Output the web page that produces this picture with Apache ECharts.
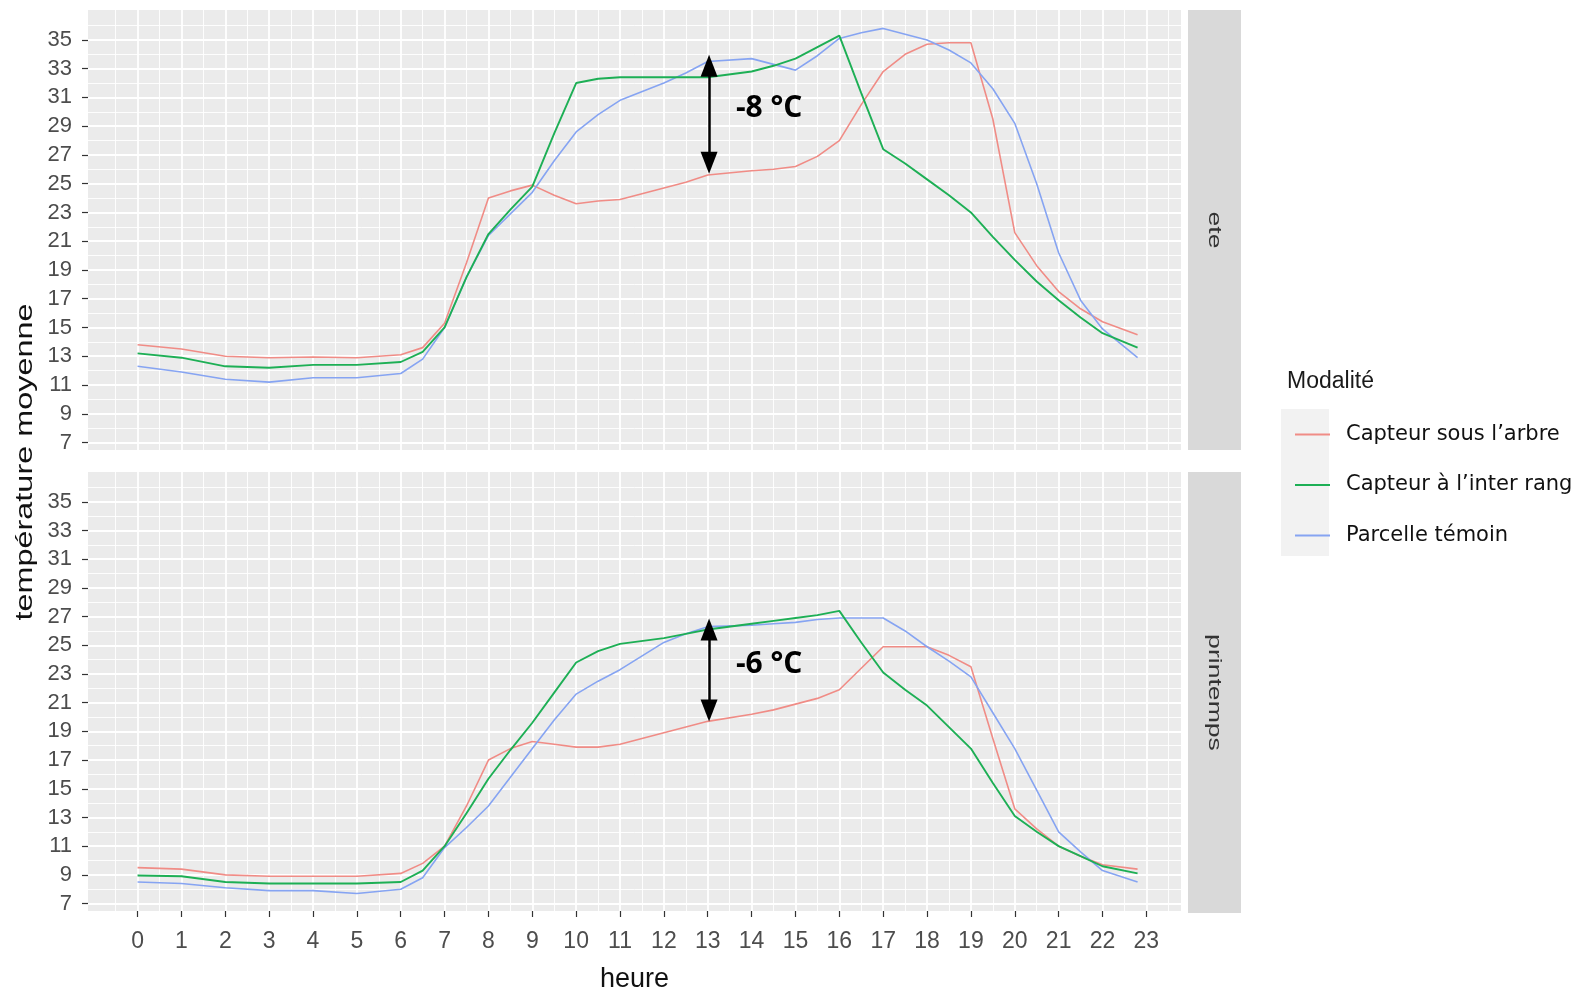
<!DOCTYPE html>
<html>
<head>
<meta charset="utf-8">
<title>Température moyenne par heure</title>
<script src="https://cdn.jsdelivr.net/npm/echarts@6.0.0/dist/echarts.min.js"></script>
<style>
  html, body { margin: 0; padding: 0; background: #fff; }
  #chart { width: 1577px; height: 994px; }
</style>
</head>
<body>
<div id="chart"></div>
<script>
// heures des relevés
const hours = [0, 1, 2, 3, 4, 5, 6, 6.5, 7, 7.5, 8, 8.5, 9, 9.5, 10, 10.5, 11, 12, 12.5, 13,
  14, 14.5, 15, 15.5, 16, 16.5, 17, 17.5, 18, 18.5, 19, 19.5, 20, 20.5, 21, 21.5, 22, 22.8];

// été
const eteArbre = [13.8, 13.5, 13.0, 12.9, 12.95, 12.9, 13.1, 13.6, 15.3, 19.5, 24.0, 24.5, 24.9, 24.2, 23.6, 23.8, 23.9, 24.7, 25.1, 25.6,
  25.9, 26.0, 26.2, 26.9, 28.0, 30.5, 32.8, 34.0, 34.7, 34.8, 34.8, 29.5, 21.6, 19.3, 17.5, 16.3, 15.4, 14.5];
const eteInterRang = [13.2, 12.9, 12.3, 12.2, 12.4, 12.4, 12.6, 13.3, 15.0, 18.5, 21.5, 23.2, 24.8, 28.5, 32.0, 32.3, 32.4, 32.4, 32.4, 32.4,
  32.8, 33.2, 33.7, 34.5, 35.3, 31.3, 27.4, 26.4, 25.3, 24.2, 23.0, 21.3, 19.7, 18.2, 16.9, 15.7, 14.6, 13.6];
const eteTemoin = [12.3, 11.9, 11.4, 11.2, 11.5, 11.5, 11.8, 12.8, 15.0, 18.5, 21.4, 22.9, 24.4, 26.6, 28.6, 29.8, 30.8, 32.0, 32.7, 33.5,
  33.7, 33.3, 32.9, 33.9, 35.1, 35.5, 35.8, 35.4, 35.0, 34.3, 33.4, 31.6, 29.2, 25.0, 20.2, 16.9, 14.9, 12.9];

// printemps
const printempsArbre = [9.5, 9.4, 9.0, 8.9, 8.9, 8.9, 9.1, 9.8, 11.0, 13.8, 17.0, 17.8, 18.3, 18.1, 17.9, 17.9, 18.1, 18.9, 19.3, 19.7,
  20.2, 20.5, 20.9, 21.3, 21.9, 23.4, 24.9, 24.9, 24.9, 24.3, 23.5, 18.5, 13.6, 12.2, 11.0, 10.3, 9.7, 9.4];
const printempsInterRang = [8.95, 8.9, 8.5, 8.4, 8.4, 8.4, 8.5, 9.3, 11.0, 13.3, 15.7, 17.7, 19.6, 21.7, 23.8, 24.6, 25.1, 25.5, 25.8, 26.1,
  26.5, 26.7, 26.9, 27.1, 27.4, 25.2, 23.1, 21.9, 20.8, 19.3, 17.8, 15.4, 13.1, 12.0, 11.0, 10.3, 9.6, 9.1];
const printempsTemoin = [8.5, 8.4, 8.1, 7.9, 7.9, 7.7, 8.0, 8.8, 10.9, 12.3, 13.8, 15.8, 17.8, 19.8, 21.6, 22.5, 23.3, 25.2, 25.8, 26.3,
  26.4, 26.5, 26.6, 26.8, 26.9, 26.9, 26.9, 26.0, 24.9, 23.9, 22.8, 20.3, 17.8, 14.9, 12.0, 10.6, 9.3, 8.5];

const modalites = ['Capteur sous l\u2019arbre', 'Capteur \u00e0 l\u2019inter rang', 'Parcelle t\u00e9moin'];
const facets = ['ete', 'printemps'];

// graduations
const xTicks = [0, 1, 2, 3, 4, 5, 6, 7, 8, 9, 10, 11, 12, 13, 14, 15, 16, 17, 18, 19, 20, 21, 22, 23];
const yTicks = [7, 9, 11, 13, 15, 17, 19, 21, 23, 25, 27, 29, 31, 33, 35];

// écarts annotés : [heure, haut, bas]
const ecartEte = [13.03, 33.2, 26.45];
const ecartPrintemps = [13.03, 26.1, 20.45];
const ecartLabels = ['-8 \u00b0C', '-6 \u00b0C'];

const xMinor = [-0.5].concat(xTicks.map(h => h + 0.5));
const yMinor = [6].concat(yTicks.map(v => v + 1));
const X_MIN = -1.13, X_MAX = 23.79, Y_MIN = 6.48, Y_MAX = 37.08;

const colors = ['#F08C86', '#1DAF55', '#86A4F2'];
const narrow = '"Liberation Sans Narrow", "Liberation Sans", sans-serif';
const regular = '"Liberation Sans", Arial, sans-serif';

const grids = [
  { left: 88, top: 10, width: 1093, height: 440 },
  { left: 88, top: 472, width: 1093, height: 441 }
];

const xAxes = [];
const yAxes = [];
grids.forEach((g, i) => {
  const bottom = i === 1;
  xAxes.push({
    type: 'value', gridIndex: i, min: X_MIN, max: X_MAX,
    axisLine: { show: false, onZero: false },
    axisTick: { show: bottom, customValues: xTicks, length: 6, lineStyle: { color: '#333', width: 1.2 } },
    axisLabel: { show: bottom, customValues: xTicks, margin: 19, color: '#4d4d4d', fontFamily: narrow, fontSize: 23 },
    splitLine: { show: true, lineStyle: { color: '#fff', width: 1.8 } },
    name: bottom ? 'heure' : '', nameLocation: 'middle', nameGap: 55,
    nameTextStyle: { fontFamily: narrow, fontSize: 27, color: '#111' }
  });
  xAxes.push({
    type: 'value', gridIndex: i, min: X_MIN, max: X_MAX, position: 'bottom',
    axisLine: { show: false, onZero: false },
    axisTick: { show: false, customValues: xMinor },
    axisLabel: { show: false },
    splitLine: { show: true, lineStyle: { color: '#fff', width: 0.9 } }
  });
  yAxes.push({
    type: 'value', gridIndex: i, min: Y_MIN, max: Y_MAX,
    axisLine: { show: false, onZero: false },
    axisTick: { show: true, customValues: yTicks, length: 6, lineStyle: { color: '#333', width: 1.2 } },
    axisLabel: { customValues: yTicks, margin: 16, color: '#4d4d4d', fontFamily: narrow, fontSize: 22 },
    splitLine: { show: true, lineStyle: { color: '#fff', width: 1.8 } }
  });
  yAxes.push({
    type: 'value', gridIndex: i, min: Y_MIN, max: Y_MAX, position: 'left',
    axisLine: { show: false, onZero: false },
    axisTick: { show: false, customValues: yMinor },
    axisLabel: { show: false },
    splitLine: { show: true, lineStyle: { color: '#fff', width: 0.9 } }
  });
});

const panelData = [
  [eteArbre, eteInterRang, eteTemoin],
  [printempsArbre, printempsInterRang, printempsTemoin]
];
const ecarts = [ecartEte, ecartPrintemps];

const series = [];
panelData.forEach((lines, p) => {
  lines.forEach((vals, k) => {
    const s = {
      type: 'line', name: modalites[k],
      xAxisIndex: p * 2, yAxisIndex: p * 2,
      data: hours.map((h, j) => [h, vals[j]]),
      symbol: 'none', smooth: false,
      lineStyle: { color: colors[k], width: k === 1 ? 1.9 : 1.6 },
      itemStyle: { color: colors[k] },
      z: k === 1 ? 3 : 2
    };
    if (k === 2) {
      const e = ecarts[p];
      s.markLine = {
        silent: true, animation: false,
        symbol: ['triangle', 'triangle'],
        symbolSize: [17, 22],
        lineStyle: { color: '#000', width: 2.5, type: 'solid' },
        label: { show: false },
        data: [[
          { coord: [e[0], e[1]], symbol: 'triangle', symbolSize: [17, 22] },
          { coord: [e[0], e[2]], symbol: 'triangle', symbolSize: [17, 22] }
        ]]
      };
      s.markPoint = {
        silent: true, animation: false,
        symbol: 'rect', symbolSize: 1, itemStyle: { color: 'rgba(0,0,0,0)' },
        label: {
          show: true, position: 'right', distance: 0,
          formatter: ecartLabels[p],
          fontFamily: '"Open Sans", sans-serif', fontWeight: 'bold', fontSize: 30, color: '#000'
        },
        data: [{ coord: [e[0] + 0.6, (e[1] + e[2]) / 2 + 0.4] }]
      };
    }
    series.push(s);
  });
});

const graphic = [];
grids.forEach((g, i) => {
  graphic.push({
    type: 'rect', z: 0,
    shape: { x: 1188, y: g.top, width: 53, height: g.height },
    style: { fill: '#D9D9D9' }
  });
  graphic.push({
    type: 'text', z: 1, x: 1214, y: g.top + g.height / 2, rotation: -Math.PI / 2, scaleX: 1.4,
    style: { text: facets[i], align: 'center', verticalAlign: 'middle', font: '19px ' + regular, fill: '#333' }
  });
});
graphic.push({
  type: 'text', x: 25, y: 462, rotation: Math.PI / 2, scaleX: 1.35,
  style: { text: 'temp\u00e9rature moyenne', align: 'center', verticalAlign: 'middle', font: '24px ' + regular, fill: '#111' }
});
graphic.push({
  type: 'text', x: 1287, y: 382,
  style: { text: 'Modalit\u00e9', align: 'left', verticalAlign: 'middle', font: '23px ' + narrow, fill: '#1a1a1a' }
});
graphic.push({
  type: 'rect', z: 0,
  shape: { x: 1281, y: 409, width: 48, height: 147 },
  style: { fill: '#F2F2F2' }
});

const chart = echarts.init(document.getElementById('chart'));
chart.setOption({
  backgroundColor: '#fff',
  animation: false,
  grid: grids.map(g => Object.assign({ backgroundColor: '#EBEBEB', show: true, borderWidth: 0 }, g)),
  xAxis: xAxes,
  yAxis: yAxes,
  legend: {
    data: modalites, orient: 'vertical', left: 1290, top: 419,
    icon: 'rect', itemWidth: 35, itemHeight: 2, itemGap: 29.5,
    textStyle: { fontFamily: '"DejaVu Sans", sans-serif', fontSize: 21, color: '#111', padding: [0, 0, 0, 11] }
  },
  graphic: graphic,
  series: series
});
</script>
</body>
</html>
